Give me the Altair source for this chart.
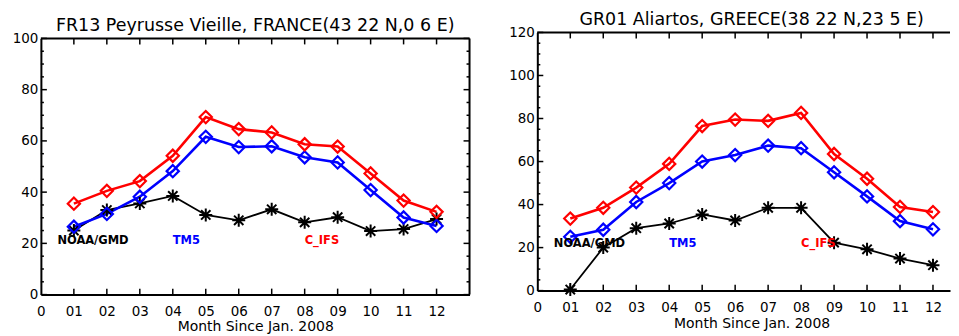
import altair as alt
import pandas as pd

# ---------------- data ----------------
months = list(range(1, 13))
x_tick_values = list(range(0, 13))
series = ["NOAA/GMD", "TM5", "C_IFS"]
colors = ["#000000", "#0000ff", "#ff0000"]

fr_noaa = [25.0, 33.0, 35.6, 38.5, 31.1, 29.0, 33.3, 28.2, 30.2, 24.8, 25.6, 29.5]
fr_tm5 = [26.5, 31.5, 38.2, 48.2, 61.6, 57.6, 57.9, 53.6, 51.6, 40.8, 30.1, 26.8]
fr_cifs = [35.5, 40.5, 44.3, 54.2, 69.3, 64.6, 63.3, 58.7, 57.8, 47.3, 36.7, 32.3]

gr_noaa = [0.5, 20.0, 29.0, 31.2, 35.4, 32.6, 38.5, 38.5, 22.3, 19.2, 14.9, 11.8]
gr_tm5 = [25.0, 28.3, 41.2, 50.0, 60.0, 63.0, 67.4, 66.2, 55.0, 43.8, 32.3, 28.5]
gr_cifs = [33.5, 38.5, 47.9, 58.9, 76.5, 79.5, 78.9, 82.6, 63.5, 52.0, 38.9, 36.5]

label_x = [0.5, 4.0, 8.0]
fr_label_y = [21.0, 21.0, 21.0]
gr_label_y = [21.5, 21.5, 21.5]

fr_title = "FR13 Peyrusse Vieille, FRANCE(43 22 N,0 6 E)"
gr_title = "GR01 Aliartos, GREECE(38 22 N,23 5 E)"
x_title = "Month Since Jan. 2008"

FONT = "DejaVu Sans"
STAR = "M-1,0L1,0M0,-1L0,1M-0.72,-0.72L0.72,0.72M-0.72,0.72L0.72,-0.72"
LABEL_EXPR = "datum.value == 0 ? '0' : (datum.value < 10 ? '0' + datum.value : '' + datum.value)"

FULL_W = 430          # width of a whole box (months 0..13)
PX_PER_MONTH = FULL_W / 13


def panel(title, noaa, tm5, cifs, label_y, ymax, ymajor, yminor, W, H, top, right_border):
    xmax = W / PX_PER_MONTH
    data = pd.DataFrame({
        "month": months * 3,
        "value": noaa + tm5 + cifs,
        "series": [s for s in series for _ in months],
    })
    labels = pd.DataFrame({"x": label_x, "y": label_y, "series": series})
    color = alt.Color("series:N", scale=alt.Scale(domain=series, range=colors), legend=None)

    xscale = alt.Scale(domain=[0, xmax], nice=False, zero=False)
    yscale = alt.Scale(domain=[0, ymax], range=[H, top], nice=False, zero=True)
    xaxis = alt.Axis(values=x_tick_values, labelExpr=LABEL_EXPR, title=x_title,
                     titleX=FULL_W / 2, titleAnchor="middle", titleAlign="center",
                     grid=False, ticks=False, domainColor="black", domainWidth=2,
                     labelFont=FONT, labelFontSize=13.5, labelColor="black",
                     labelPadding=10, labelFlush=False, labelOverlap=False,
                     titleFont=FONT, titleFontSize=14, titleFontWeight="normal",
                     titleColor="black", titlePadding=2)
    yaxis = alt.Axis(values=list(range(0, ymax + 1, ymajor)), title=None,
                     grid=False, ticks=False, domainColor="black", domainWidth=2,
                     labelFont=FONT, labelFontSize=13.5, labelColor="black",
                     labelPadding=3, labelFlush=False, labelOverlap=False)

    def X(f):
        return alt.X(f, type="quantitative", scale=xscale, axis=xaxis)

    def Y(f):
        return alt.Y(f, type="quantitative", scale=yscale, axis=yaxis)

    layers = []
    widths = {"NOAA/GMD": 1.8, "TM5": 2.6, "C_IFS": 2.6}
    for s in series:
        base = alt.Chart(data).transform_filter(alt.datum.series == s)
        layers.append(base.mark_line(strokeWidth=widths[s]).encode(
            x=X("month"), y=Y("value"), color=color))
    for s in series:
        base = alt.Chart(data).transform_filter(alt.datum.series == s)
        if s == "NOAA/GMD":
            pt = base.mark_point(shape=STAR, filled=False, size=170, strokeWidth=2, opacity=1)
        else:
            pt = base.mark_point(shape="diamond", filled=False, size=150, strokeWidth=2.2, opacity=1)
        layers.append(pt.encode(x=X("month"), y=Y("value"), color=color))

    layers.append(alt.Chart(labels).mark_text(
        align="left", baseline="middle", font=FONT, fontSize=11.5, fontWeight="bold"
    ).encode(x=X("x"), y=Y("y"), text="series:N", color=color))

    # tick marks (inward, IDL style)
    ymaj = pd.DataFrame({"v": list(range(0, ymax + 1, ymajor))})
    ymin = pd.DataFrame({"v": [v for v in range(0, ymax + 1, yminor) if v % ymajor]})
    xmaj = pd.DataFrame({"v": months})
    layers.append(alt.Chart(ymaj).mark_rule(color="black", strokeWidth=1.5).encode(
        y=Y("v"), x=alt.value(0), x2=alt.value(6)))
    layers.append(alt.Chart(ymin).mark_rule(color="black", strokeWidth=1.5).encode(
        y=Y("v"), x=alt.value(0), x2=alt.value(3)))
    layers.append(alt.Chart(xmaj).mark_rule(color="black", strokeWidth=1.5).encode(
        x=X("v"), y=alt.value(H), y2=alt.value(H - 6)))
    layers.append(alt.Chart(xmaj).mark_rule(color="black", strokeWidth=1.5).encode(
        x=X("v"), y=alt.value(top), y2=alt.value(top + 6)))
    # box: top side (and right side when it is inside the picture)
    layers.append(alt.Chart(pd.DataFrame({"v": [ymax]})).mark_rule(color="black", strokeWidth=2).encode(
        y=Y("v"), x=alt.value(0), x2=alt.value(W)))
    if right_border:
        layers.append(alt.Chart(pd.DataFrame({"v": [xmax]})).mark_rule(color="black", strokeWidth=2).encode(
            x=X("v"), y=alt.value(top), y2=alt.value(H)))
        layers.append(alt.Chart(ymaj).mark_rule(color="black", strokeWidth=1.5).encode(
            y=Y("v"), x=alt.value(W - 6), x2=alt.value(W)))
        layers.append(alt.Chart(ymin).mark_rule(color="black", strokeWidth=1.5).encode(
            y=Y("v"), x=alt.value(W - 3), x2=alt.value(W)))

    # panel title as a text mark centred over the whole box
    layers.append(alt.Chart(pd.DataFrame({"t": [title]})).mark_text(
        align="center", baseline="alphabetic", font=FONT, fontSize=17.5, color="black"
    ).encode(text="t:N", x=alt.value(FULL_W / 2), y=alt.value(top - 7)))

    return alt.layer(*layers).properties(width=W, height=H)


left = panel(fr_title, fr_noaa, fr_tm5, fr_cifs, fr_label_y, 100, 20, 5,
             FULL_W, 263, 6, True)
right = panel(gr_title, gr_noaa, gr_tm5, gr_cifs, gr_label_y, 120, 20, 5,
              414, 259, 0, False)

chart = alt.hconcat(left, right, spacing=38).properties(
    padding={"left": 4, "top": 3, "right": 0, "bottom": 0},
    background="white",
).configure_view(strokeWidth=0)

chart.save("out.html", embed_options={"renderer": "svg", "actions": False})
